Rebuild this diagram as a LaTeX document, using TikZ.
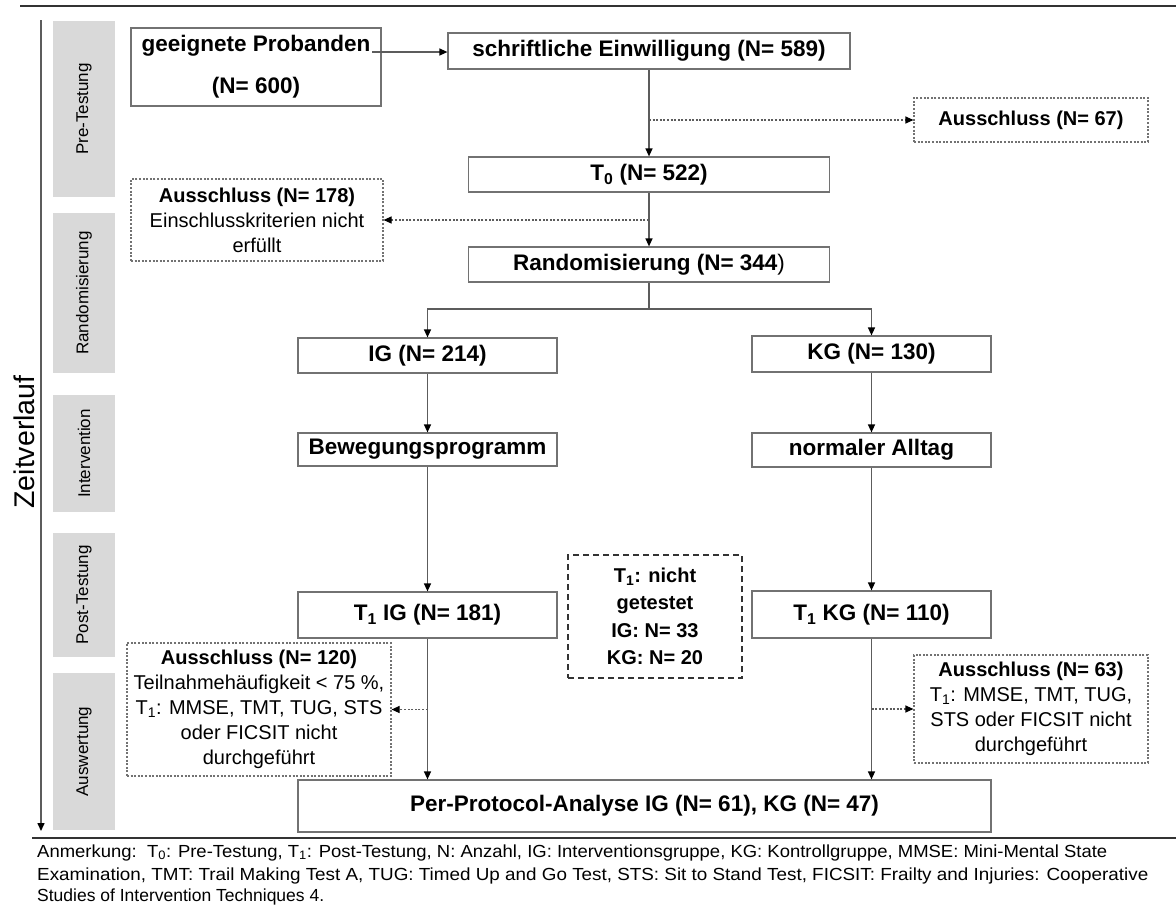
\documentclass[tikz,border=0pt]{standalone}
\usepackage{graphicx}
\usepackage{fontspec}
\setmainfont{Liberation Sans}
\usetikzlibrary{arrows.meta}

\definecolor{linegray}{HTML}{5C5C5C}
\definecolor{boxgray}{HTML}{727272}
\definecolor{bandgray}{HTML}{D9D9D9}
\definecolor{rulegray}{HTML}{333333}

\newcommand\boxfont{\fontsize{22.5}{27}\selectfont\bfseries}
\newcommand\smallfont{\fontsize{20}{25}\selectfont}
\newcommand\bandfont{\fontsize{17}{20}\selectfont}
\newcommand\notefont{\fontsize{17.5}{22}\selectfont}

\tikzset{
  flowbox/.style={draw=boxgray, line width=1.2pt, fill=white, inner sep=0pt,
    align=center, font=\boxfont},
  exclbox/.style={draw=boxgray, line width=1.1pt, dash pattern=on 2pt off 1.6pt,
    fill=white, inner sep=0pt, align=center, font=\smallfont},
  missbox/.style={draw=rulegray, line width=1.8pt, dash pattern=on 6pt off 4pt,
    fill=white, inner sep=0pt, align=center, font=\smallfont\bfseries,
    execute at begin node=\setlength{\baselineskip}{27.5pt}},
  band/.style={fill=bandgray, draw=none, inner sep=0pt, minimum width=62pt},
  bandlabel/.style={rotate=90, font=\bandfont, inner sep=0pt},
  tip/.style={-{Triangle[length=8pt,width=7pt,color=black]}},
  flow/.style={draw=linegray, line width=1.3pt, tip},
  flowline/.style={draw=linegray, line width=1.3pt},
  dotflow/.style={draw=linegray, line width=1.1pt, dash pattern=on 2pt off 1.6pt, tip},
  notetext/.style={anchor=base west, inner sep=0pt, font=\notefont},
}

\begin{document}
\begin{tikzpicture}[x=1pt, y=-1pt]
\useasboundingbox (0,0) rectangle (1176,906);

% rules framing the figure
\draw[rulegray, line width=2pt] (20,6) -- (1176,6);
\draw[rulegray, line width=2.5pt] (32,838) -- (1176,838);

% time axis
\coordinate (axtop) at (41,20);
\coordinate (axbot) at (41,831);
\draw[flow, line width=1.5pt] (axtop) -- (axbot);
\node[rotate=90, font=\fontsize{28.5}{32}\selectfont, inner sep=0pt] (zeit) at (24,442) {Zeitverlauf};

% phase bands
\node[band, minimum height=176pt] (b1) at (84,109) {};
\node[bandlabel] at (b1) {Pre-Testung};
\node[band, minimum height=160pt] (b2) at (84,293) {};
\node[bandlabel] at (b2) {Randomisierung};
\node[band, minimum height=117pt] (b3) at (84,453.5) {};
\node[bandlabel] at (b3) {Intervention};
\node[band, minimum height=124pt] (b4) at (84,595) {};
\node[bandlabel] at (b4) {Post-Testung};
\node[band, minimum height=157pt] (b5) at (84,751.5) {};
\node[bandlabel] at (b5) {Auswertung};

% flow boxes
\node[flowbox, minimum width=250pt, minimum height=78pt] (elig) at (256,67)
  {geeignete Probanden\\[15pt](N= 600)};
\node[flowbox, minimum width=402pt, minimum height=36pt] (cons) at (649,51)
  {schriftliche Einwilligung (N= 589)};
\node[exclbox, minimum width=234pt, minimum height=44pt, font=\smallfont\bfseries] (ex67) at (1031,120)
  {Ausschluss (N= 67)};
\node[flowbox, minimum width=361pt, minimum height=35pt] (t0) at (649,174.5)
  {T\textsubscript{0} (N= 522)};
\node[exclbox, minimum width=252pt, minimum height=82pt] (ex178) at (257,220)
  {\textbf{Ausschluss (N= 178)}\\Einschlusskriterien nicht\\erfüllt};
\node[flowbox, minimum width=361pt, minimum height=35pt] (rand) at (649,264.5)
  {Randomisierung (N= 344\textmd{)}};
\node[flowbox, minimum width=259pt, minimum height=35pt] (ig) at (427.5,355.5)
  {IG (N= 214)};
\node[flowbox, minimum width=239pt, minimum height=36pt] (kg) at (871.5,354)
  {KG (N= 130)};
\node[flowbox, minimum width=259pt, minimum height=33pt] (bew) at (427.5,449.5)
  {Bewegungsprogramm};
\node[flowbox, minimum width=239pt, minimum height=34pt] (alltag) at (871.5,450)
  {normaler Alltag};
\node[flowbox, minimum width=259pt, minimum height=46pt] (t1ig) at (427.5,615)
  {T\textsubscript{1} IG (N= 181)};
\node[flowbox, minimum width=239pt, minimum height=47pt] (t1kg) at (871.5,614.5)
  {T\textsubscript{1} KG (N= 110)};
\node[missbox, minimum width=174pt, minimum height=123pt] (miss) at (655,616.5)
  {T\textsubscript{1}: nicht\\getestet\\IG: N= 33\\KG: N= 20};
\node[exclbox, minimum width=264pt, minimum height=133pt] (ex120) at (259,709.5)
  {\textbf{Ausschluss (N= 120)}\\Teilnahmehäufigkeit < 75 \%,\\T\textsubscript{1}: MMSE, TMT, TUG, STS\\oder FICSIT nicht\\durchgeführt};
\node[exclbox, minimum width=234pt, minimum height=108pt] (ex63) at (1031,709)
  {\textbf{Ausschluss (N= 63)}\\T\textsubscript{1}: MMSE, TMT, TUG,\\STS oder FICSIT nicht\\durchgeführt};
\node[flowbox, minimum width=693pt, minimum height=52pt] (ppa) at (644.5,806)
  {Per-Protocol-Analyse IG (N= 61), KG (N= 47)};

% connectors
\coordinate (eligout) at (372,52);
\draw[flow] (eligout) -- (cons.west |- eligout);
\draw[flow] (cons.south) -- (t0.north);
\draw[dotflow] (cons.south |- ex67.west) -- (ex67.west);
\draw[flow] (t0.south) -- (rand.north);
\draw[dotflow] (t0.south |- ex178.east) -- (ex178.east);
\coordinate (split) at (649,309);
\draw[flowline] (rand.south) -- (split);
\draw[flow] (split) -| (ig.north);
\draw[flow] (split) -| (kg.north);
\draw[flow] (ig.south) -- (bew.north);
\draw[flow] (kg.south) -- (alltag.north);
\draw[flow] (bew.south) -- (t1ig.north);
\draw[flow] (alltag.south) -- (t1kg.north);
\draw[flow] (t1ig.south) -- (t1ig.south |- ppa.north);
\draw[flow] (t1kg.south) -- (t1kg.south |- ppa.north);
\draw[dotflow] (t1ig.south |- ex120.east) -- (ex120.east);
\draw[dotflow] (t1kg.south |- ex63.west) -- (ex63.west);

% note below the figure
\node[notetext] (note1) at (37,857) {\resizebox{1070pt}{\height}{Anmerkung:\ \ T\textsubscript{0}: Pre-Testung, T\textsubscript{1}: Post-Testung, N: Anzahl,\ IG: Interventionsgruppe,\ KG: Kontrollgruppe,\ MMSE: Mini-Mental State}};
\node[notetext] (note2) at (37,880) {\resizebox{1111pt}{\height}{Examination,\ TMT: Trail Making Test A, TUG: Timed Up and Go Test, STS: Sit to Stand Test, FICSIT: Frailty and Injuries: Cooperative}};
\node[notetext] (note3) at (37,901) {Studies of Intervention Techniques 4.};
\end{tikzpicture}
\end{document}
